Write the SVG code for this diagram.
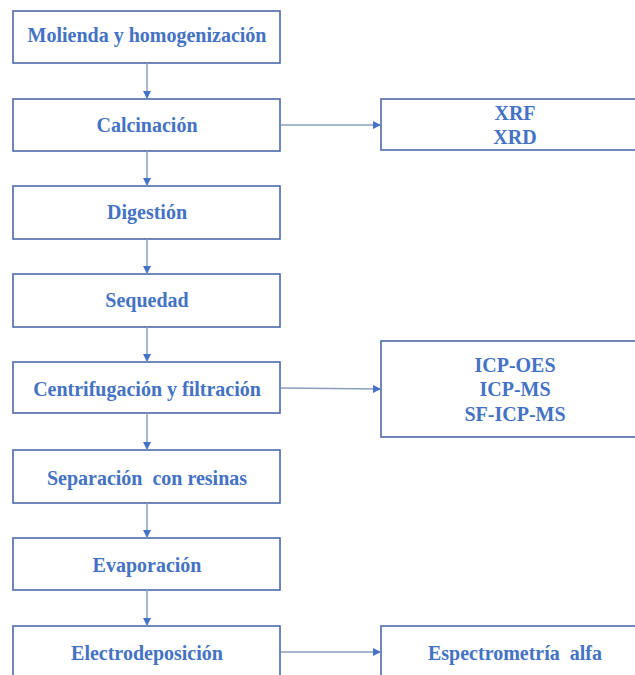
<svg xmlns="http://www.w3.org/2000/svg" width="635" height="675" viewBox="0 0 635 675">
  <style>
    .box { fill: #ffffff; stroke: #4a6aa9; stroke-width: 1.6; }
    .lbl { font-family: "Liberation Serif", "Times New Roman", serif; font-weight: bold; font-size: 20px; fill: #4472c4; text-anchor: middle; }
    .wire { fill: none; stroke: #8d9dbd; stroke-width: 1.5; }
  </style>
  <defs>
    <marker id="tri" viewBox="0 0 10 10" refX="10" refY="5" markerWidth="8" markerHeight="8" markerUnits="userSpaceOnUse" orient="auto">
      <path d="M0,0 L10,5 L0,10 Z" fill="#4472c4"/>
    </marker>
  </defs>
  <rect width="635" height="675" fill="#ffffff"/>

  <!-- process steps -->
  <g id="molienda"><rect class="box" x="13" y="11" width="267" height="52"/><text class="lbl" x="147" y="42">Molienda y homogenización</text></g>
  <g id="calcinacion"><rect class="box" x="13" y="99" width="267" height="52"/><text class="lbl" x="147" y="132">Calcinación</text></g>
  <g id="digestion"><rect class="box" x="13" y="186" width="267" height="53"/><text class="lbl" x="147" y="219">Digestión</text></g>
  <g id="sequedad"><rect class="box" x="13" y="274" width="267" height="53"/><text class="lbl" x="147" y="307">Sequedad</text></g>
  <g id="centrifugacion"><rect class="box" x="13" y="362" width="267" height="51"/><text class="lbl" x="147" y="396">Centrifugación y filtración</text></g>
  <g id="separacion"><rect class="box" x="13" y="450" width="267" height="53"/><text class="lbl" x="147" y="485" xml:space="preserve">Separación  con resinas</text></g>
  <g id="evaporacion"><rect class="box" x="13" y="538" width="267" height="52"/><text class="lbl" x="147" y="572">Evaporación</text></g>
  <g id="electrodeposicion"><rect class="box" x="13" y="626" width="267" height="60"/><text class="lbl" x="147" y="660">Electrodeposición</text></g>

  <!-- analysis techniques -->
  <g id="xr"><rect class="box" x="381" y="99" width="268" height="51"/><text class="lbl" x="515" y="120">XRF</text><text class="lbl" x="515" y="144">XRD</text></g>
  <g id="icp"><rect class="box" x="381" y="341" width="268" height="96"/><text class="lbl" x="515" y="372">ICP-OES</text><text class="lbl" x="515" y="396">ICP-MS</text><text class="lbl" x="515" y="421">SF-ICP-MS</text></g>
  <g id="alfa"><rect class="box" x="381" y="626" width="268" height="60"/><text class="lbl" x="515" y="660" xml:space="preserve">Espectrometría  alfa</text></g>

  <!-- connectors -->
  <g id="connectors">
    <line class="wire" x1="147" y1="63" x2="147" y2="99" marker-end="url(#tri)"/>
    <line class="wire" x1="147" y1="151" x2="147" y2="186" marker-end="url(#tri)"/>
    <line class="wire" x1="147" y1="239" x2="147" y2="274" marker-end="url(#tri)"/>
    <line class="wire" x1="147" y1="327" x2="147" y2="362" marker-end="url(#tri)"/>
    <line class="wire" x1="147" y1="413" x2="147" y2="450" marker-end="url(#tri)"/>
    <line class="wire" x1="147" y1="503" x2="147" y2="538" marker-end="url(#tri)"/>
    <line class="wire" x1="147" y1="590" x2="147" y2="626" marker-end="url(#tri)"/>
    <line class="wire" x1="281" y1="125" x2="381" y2="125" marker-end="url(#tri)"/>
    <line class="wire" x1="281" y1="388" x2="381" y2="389" marker-end="url(#tri)"/>
    <line class="wire" x1="281" y1="652" x2="381" y2="652" marker-end="url(#tri)"/>
  </g>
</svg>
